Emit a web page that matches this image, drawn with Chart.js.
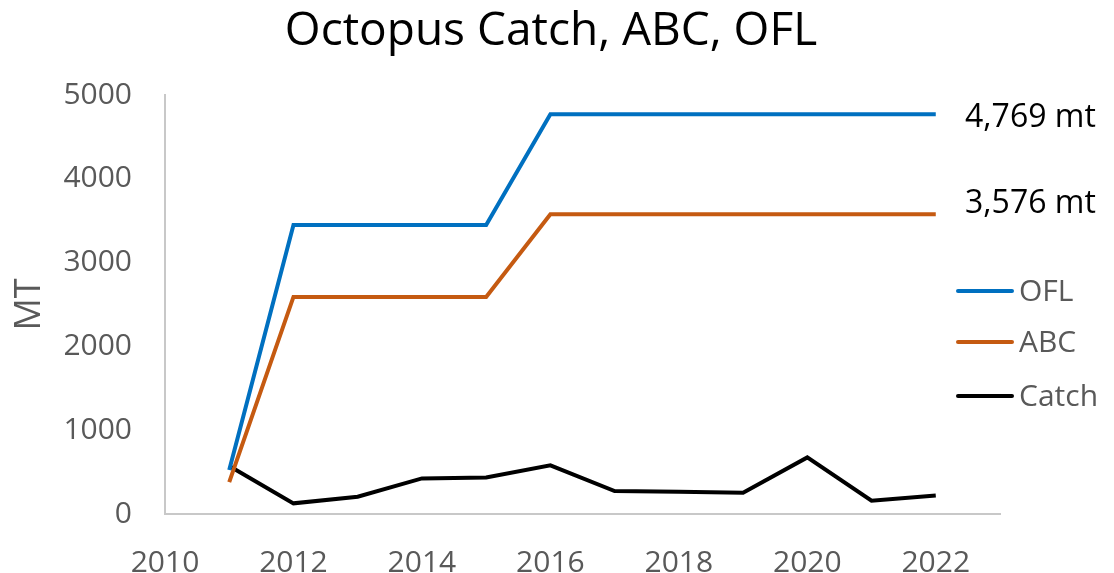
<!DOCTYPE html>
<html>
<head>
<meta charset="utf-8">
<script src="https://cdn.jsdelivr.net/npm/chart.js@4/dist/chart.umd.min.js"></script>
<style>
  html, body { margin: 0; padding: 0; background: #fff; }
  #wrap { width: 1114px; height: 573px; position: relative; }
</style>
</head>
<body>
<div id="wrap"><canvas id="octopusChart"></canvas></div>
<script>
// Datos de la gráfica
const years = [2011, 2012, 2013, 2014, 2015, 2016, 2017, 2018, 2019, 2020, 2021, 2022];
const oflValues = [525, 3450, 3450, 3450, 3450, 4769, 4769, 4769, 4769, 4769, 4769, 4769];
const abcValues = [380, 2590, 2590, 2590, 2590, 3576, 3576, 3576, 3576, 3576, 3576, 3576];
const catchValues = [573, 127, 206, 425, 437, 580, 274, 266, 254, 675, 158, 222];
const xTickLabels = [2010, 2012, 2014, 2016, 2018, 2020, 2022];
const yTickLabels = [0, 1000, 2000, 3000, 4000, 5000];
const annotationValues = [4769, 3576];
const annotationTexts = ['4,769 mt', '3,576 mt'];
const seriesNames = ['OFL', 'ABC', 'Catch'];
const chartTitle = 'Octopus Catch, ABC, OFL';

(function () {
    const FONT = "'Open Sans', 'Noto Sans', sans-serif";
    const GREY = '#595959';
    const colors = ['#0070c0', '#c55a11', '#000000'];

    function toPoints(values) {
        return years.map((y, i) => ({ x: y, y: values[i] }));
    }

    // Título, etiquetas de texto y leyenda dibujadas a mano
    const extrasPlugin = {
        id: 'extras',
        afterDraw(chart) {
            const c = chart.ctx;
            const yScale = chart.scales.y;
            c.save();
            c.textBaseline = 'middle';

            // título
            c.fillStyle = '#000';
            c.textAlign = 'center';
            c.font = '46px ' + FONT;
            c.fillText(chartTitle, 551, 32);

            c.textAlign = 'left';
            c.font = '32px ' + FONT;
            const offsets = [4, -10];
            annotationValues.forEach((v, i) => {
                c.fillText(annotationTexts[i], 965, yScale.getPixelForValue(v) + offsets[i]);
            });

            // leyenda
            const rows = [291, 342, 396];
            c.font = '30px ' + FONT;
            seriesNames.forEach((name, i) => {
                c.strokeStyle = colors[i];
                c.lineWidth = 4;
                c.lineCap = 'round';
                c.beginPath();
                c.moveTo(958, rows[i]);
                c.lineTo(1012, rows[i]);
                c.stroke();
                c.fillStyle = GREY;
                c.fillText(name, 1019, rows[i] + 1);
            });
            c.restore();
        }
    };

    const datasets = [oflValues, abcValues, catchValues].map((vals, i) => ({
        label: seriesNames[i],
        data: toPoints(vals),
        borderColor: colors[i],
        backgroundColor: colors[i],
        borderWidth: 4,
        pointRadius: 0,
        tension: 0,
        fill: false
    }));

    new Chart(document.getElementById('octopusChart'), {
        type: 'line',
        data: { datasets: datasets },
        plugins: [extrasPlugin],
        options: {
            responsive: true,
            maintainAspectRatio: false,
            animation: false,
            layout: { padding: { top: 95, right: 114, bottom: 0, left: 0 } },
            plugins: {
                legend: { display: false },
                tooltip: { enabled: false },
                title: { display: false }
            },
            scales: {
                x: {
                    type: 'linear',
                    min: 2010,
                    max: 2023,
                    afterFit(scale) { scale.height = 59; },
                    afterBuildTicks(scale) {
                        scale.ticks = xTickLabels.map(v => ({ value: v }));
                    },
                    grid: { display: false, drawTicks: false },
                    border: { display: true, color: '#c8c8c8', width: 2 },
                    ticks: {
                        color: GREY,
                        padding: 31,
                        maxRotation: 0,
                        font: { family: FONT, size: 30 },
                        callback: v => String(v)
                    }
                },
                y: {
                    min: 0,
                    max: 5000,
                    afterFit(scale) { scale.width = 165; },
                    afterBuildTicks(scale) {
                        scale.ticks = yTickLabels.map(v => ({ value: v }));
                    },
                    grid: { display: false, drawTicks: false },
                    border: { display: true, color: '#c8c8c8', width: 2 },
                    title: {
                        display: true,
                        text: 'MT',
                        color: GREY,
                        font: { family: FONT, size: 36 },
                        padding: { top: 8, bottom: 0 }
                    },
                    ticks: {
                        color: GREY,
                        padding: 33,
                        font: { family: FONT, size: 30 },
                        callback: v => String(v)
                    }
                }
            }
        }
    });
})();
</script>
</body>
</html>
